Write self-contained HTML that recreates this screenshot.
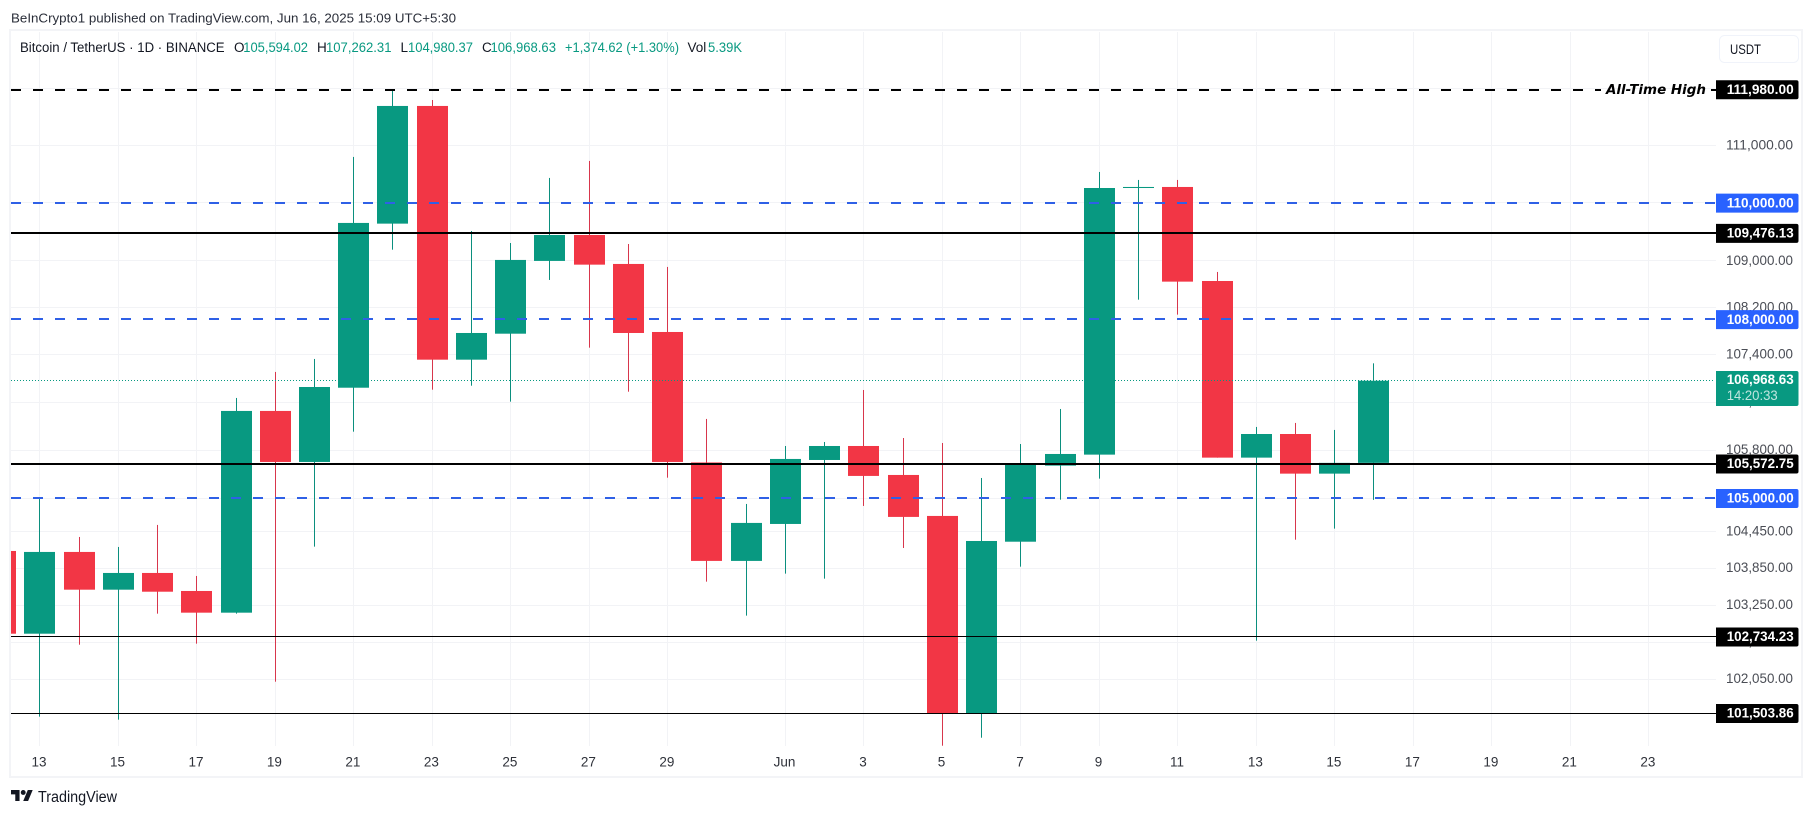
<!DOCTYPE html>
<html lang="en">
<head>
<meta charset="utf-8">
<title>Bitcoin / TetherUS chart</title>
<style>
html,body{margin:0;padding:0;background:#fff;width:1813px;height:816px;overflow:hidden}
svg{display:block;font-family:"Liberation Sans",sans-serif}
</style>
</head>
<body>
<svg id="chart" xmlns="http://www.w3.org/2000/svg" width="1813" height="816" viewBox="0 0 1813 816">
  <defs>
    <clipPath id="plot-clip"><rect x="11" y="32" width="1705" height="714"/></clipPath>
  </defs>
  <rect x="0" y="0" width="1813" height="816" fill="#ffffff"/>
  <text x="11" y="22.5" font-size="13" fill="#2a2e39" textLength="445" lengthAdjust="spacingAndGlyphs">BeInCrypto1 published on TradingView.com, Jun 16, 2025 15:09 UTC+5:30</text>
  <rect x="10" y="30" width="1792" height="747" fill="none" stroke="#f3f4f7" stroke-width="2"/>
  <g id="grid"></g>
  <g id="candles" clip-path="url(#plot-clip)"></g>
  <g id="levels"></g>
  <g id="price-axis"></g>
  <g id="time-axis"></g>
  <g id="level-tags"></g>

  <g font-size="13.5" fill="#131722">
    <text x="20" y="52" textLength="204.6" lengthAdjust="spacingAndGlyphs">Bitcoin / TetherUS · 1D · BINANCE</text>
    <text x="234" y="52">O</text>
    <text x="243.3" y="52" fill="#089981" textLength="64.7" lengthAdjust="spacingAndGlyphs">105,594.02</text>
    <text x="317" y="52">H</text>
    <text x="326" y="52" fill="#089981" textLength="65.5" lengthAdjust="spacingAndGlyphs">107,262.31</text>
    <text x="400.5" y="52">L</text>
    <text x="408" y="52" fill="#089981" textLength="65" lengthAdjust="spacingAndGlyphs">104,980.37</text>
    <text x="482" y="52">C</text>
    <text x="490.5" y="52" fill="#089981" textLength="65.5" lengthAdjust="spacingAndGlyphs">106,968.63</text>
    <text x="565" y="52" fill="#089981" textLength="114" lengthAdjust="spacingAndGlyphs">+1,374.62 (+1.30%)</text>
    <text x="687.5" y="52">Vol</text>
    <text x="708" y="52" fill="#089981" textLength="34" lengthAdjust="spacingAndGlyphs">5.39K</text>
  </g>

  <g>
    <rect x="1719.5" y="35.5" width="79" height="27" rx="5" fill="#ffffff" stroke="#f0f3fa"/>
    <text x="1730" y="54" font-size="14" fill="#131722" textLength="31" lengthAdjust="spacingAndGlyphs">USDT</text>
  </g>

  <text x="1606" y="94" font-family="'DejaVu Sans',sans-serif" font-size="13" font-weight="bold" font-style="italic" fill="#000000" textLength="100" lengthAdjust="spacingAndGlyphs">All-Time High</text>

  <g>
    <g transform="translate(11 787.6) scale(0.611)" fill="#131722">
      <path d="M14 22H7V11H0V4h14v18zM28 22h-8l7.5-18h8L28 22z"/>
      <circle cx="20" cy="8" r="4"/>
    </g>
    <text x="38" y="802" font-size="15.5" fill="#131722" textLength="79" lengthAdjust="spacingAndGlyphs">TradingView</text>
  </g>
</svg>

<script>
// Chart data
const candleDates = ['May 12','May 13','May 14','May 15','May 16','May 17','May 18','May 19','May 20','May 21','May 22','May 23','May 24','May 25','May 26','May 27','May 28','May 29','May 30','May 31','Jun 1','Jun 2','Jun 3','Jun 4','Jun 5','Jun 6','Jun 7','Jun 8','Jun 9','Jun 10','Jun 11','Jun 12','Jun 13','Jun 14','Jun 15','Jun 16'];
const opens  = [104139,102791,104123,103506,103779,103485,103132,106461,105609,106851,109648,111699,107324,107764,109006,109452,108954,107793,105601,103976,104583,105642,105875,105393,104715,101511,104291,105548,105731,110265,110283,108662,105681,106075,105415,105594.02];
const highs  = [105819,105012,104369,104205,104567,103730,106679,107117,107336,110806,111980,111804,109521,109314,110440,110736,109297,108903,106327,104913,105875,105942,106813,106008,105925,105343,105908,106494,110544,110405,110405,108817,106193,106260,106143,107262.31];
const lows   = [100718,101457,102613,101409,103116,102630,103116,102017,104210,106114,109199,106818,106885,106617,108680,107527,106784,105348,103637,103084,103768,103686,104880,104188,100994,101121,103882,104984,105332,108343,108088,105681,102678,104324,104506,104980.37];
const closes = [102791,104123,103506,103779,103473,103132,106461,105609,106863,109660,111699,107324,107776,109023,109452,108942,107776,105609,103976,104600,105659,105875,105377,104699,101511,104303,105559,105742,110265,110283,108651,105681,106075,105415,105594,106968.63];

const axisDates = ['May 12','May 13','May 14','May 15','May 16','May 17','May 18','May 19','May 20','May 21','May 22','May 23','May 24','May 25','May 26','May 27','May 28','May 29','May 30','May 31','Jun 1','Jun 2','Jun 3','Jun 4','Jun 5','Jun 6','Jun 7','Jun 8','Jun 9','Jun 10','Jun 11','Jun 12','Jun 13','Jun 14','Jun 15','Jun 16','Jun 17','Jun 18','Jun 19','Jun 20','Jun 21','Jun 22','Jun 23'];
const tickDates  = ['May 13','May 15','May 17','May 19','May 21','May 23','May 25','May 27','May 29','Jun 1','Jun 3','Jun 5','Jun 7','Jun 9','Jun 11','Jun 13','Jun 15','Jun 17','Jun 19','Jun 21','Jun 23'];
const tickLabels = ['13','15','17','19','21','23','25','27','29','Jun','3','5','7','9','11','13','15','17','19','21','23'];

const priceTicks = [112000,111000,110000,109000,108200,107400,106600,105800,105000,104450,103850,103250,102650,102050];
const priceTickLabels = ['112,000.00','111,000.00','110,000.00','109,000.00','108,200.00','107,400.00','106,600.00','105,800.00','105,000.00','104,450.00','103,850.00','103,250.00','102,650.00','102,050.00'];

const athLevel = 111980;
const targetLevels = [110000,108000,105000];
const majorLevels = [109476.13,105572.75];
const minorLevels = [102734.23,101503.86];
const lastPrice = 106968.63;
const countdown = '14:20:33';

// Axis functions
function xOf(dateLabel){ return 0.06 + 39.24 * axisDates.indexOf(dateLabel); }
function yOf(price){ return 90 + 6350 * Math.log(111980 / price); }
function fmt(price){ return price.toLocaleString('en-US',{minimumFractionDigits:2,maximumFractionDigits:2}); }

const NS = 'http://www.w3.org/2000/svg';
function make(tag, parent, props){
  const el = document.createElementNS(NS, tag);
  for (const k in props) el.setAttribute(k, props[k]);
  parent.appendChild(el);
  return el;
}

const PLOT_L = 11, PLOT_R = 1716, GRID_C = '#f2f3f6';
const gridG = document.getElementById('grid');
const candleG = document.getElementById('candles');
const levelG = document.getElementById('levels');
const priceG = document.getElementById('price-axis');
const timeG = document.getElementById('time-axis');
const tagG = document.getElementById('level-tags');

// Horizontal grid + price labels
priceTicks.forEach(function(p, i){
  const y = Math.floor(yOf(p) - 0.4) + 0.5;
  const line = make('line', gridG, {x1:PLOT_L, x2:PLOT_R, y1:y, y2:y, stroke:GRID_C, 'stroke-width':1});
  
  
  const t = make('text', priceG, {x:1726, y:yOf(p)+3.5, 'font-size':14, fill:'#4a4d55', textLength:67, lengthAdjust:'spacingAndGlyphs'});
  t.textContent = priceTickLabels[i];
  
  
});

// Vertical grid + date labels
tickDates.forEach(function(d, i){
  const x = Math.round(xOf(d)) + 0.5;
  const line = make('line', gridG, {x1:x, x2:x, y1:32, y2:746, stroke:GRID_C, 'stroke-width':1});
  
  
  const t = make('text', timeG, {x:xOf(d)-0.3, y:766.5, 'font-size':13.5, fill:'#2f323a', 'text-anchor':'middle'});
  t.textContent = tickLabels[i];
  
  
});

// Candles
candleDates.forEach(function(d, i){
  const up = closes[i] >= opens[i];
  const col = up ? '#089981' : '#f23645';
  const wickCol = up ? '#0b8f7e' : '#d8364c';
  const cx = Math.round(xOf(d));
  const top = yOf(Math.max(opens[i], closes[i]));
  const bot = yOf(Math.min(opens[i], closes[i]));
  const wick = make('rect', candleG, {x:cx, y:yOf(highs[i]), width:1, height:yOf(lows[i])-yOf(highs[i]), fill:wickCol});
  
  
  const body = make('rect', candleG, {x:cx-15, y:top, width:31, height:Math.max(bot-top,1), fill:col});
  
  
});

// Last price dotted line
const lastY = Math.floor(yOf(lastPrice) - 0.5) + 0.5;
const lastLine = make('line', levelG, {x1:PLOT_L, x2:1713, y1:lastY, y2:lastY, stroke:'#089981', 'stroke-width':1, 'stroke-dasharray':'1 2'});



// Level lines
targetLevels.forEach(function(p){
  const y = Math.round(yOf(p) - 0.5);
  const l = make('line', levelG, {x1:PLOT_L, x2:PLOT_R, y1:y, y2:y, stroke:'#2f60e6', 'stroke-width':2, 'stroke-dasharray':'10 12'});
  
  
});
majorLevels.forEach(function(p){
  const y = Math.round(yOf(p) - 0.5);
  const l = make('line', levelG, {x1:PLOT_L, x2:PLOT_R, y1:y, y2:y, stroke:'#000000', 'stroke-width':2});
  
  
});
minorLevels.forEach(function(p){
  const y = Math.floor(yOf(p) - 0.5) + 0.5;
  const l = make('line', levelG, {x1:PLOT_L, x2:PLOT_R, y1:y, y2:y, stroke:'#000000', 'stroke-width':1});
  
  
});
const athY = Math.round(yOf(athLevel));
const athLine = make('line', levelG, {x1:PLOT_L, x2:1601, y1:athY, y2:athY, stroke:'#000000', 'stroke-width':2, 'stroke-dasharray':'10 12'});


const athStub = make('line', levelG, {x1:1711, x2:PLOT_R, y1:athY, y2:athY, stroke:'#000000', 'stroke-width':2});



// Price tags
function tagShape(y, h, fill){
  const d = 'M1716 '+y+'h80.5a2 2 0 0 1 2 2v'+(h-4)+'a2 2 0 0 1 -2 2h-80.5z';
  return make('path', tagG, {d:d, fill:fill});
}
function addTag(p, fill){
  const cy = yOf(p);
  const box = tagShape(cy-9.7, 19, fill);
  
  
  const t = make('text', tagG, {x:1726.7, y:cy+4, 'font-size':14, 'font-weight':'bold', fill:'#ffffff', textLength:67, lengthAdjust:'spacingAndGlyphs'});
  t.textContent = fmt(p);
  
  
}
[athLevel].concat(majorLevels, minorLevels).forEach(function(p){ addTag(p, '#000000'); });
targetLevels.forEach(function(p){ addTag(p, '#2962ff'); });

const lastCy = yOf(lastPrice);
const lastBox = tagShape(lastCy-9.7, 35, '#089981');


const lastTxt = make('text', tagG, {x:1726.7, y:lastCy+3.5, 'font-size':14, 'font-weight':'bold', fill:'#ffffff', textLength:67, lengthAdjust:'spacingAndGlyphs'});
lastTxt.textContent = fmt(lastPrice);


const cdTxt = make('text', tagG, {x:1726.7, y:lastCy+19.5, 'font-size':14, fill:'#ffffff', 'fill-opacity':0.75, textLength:51, lengthAdjust:'spacingAndGlyphs'});
cdTxt.textContent = countdown;


</script>
</body>
</html>
